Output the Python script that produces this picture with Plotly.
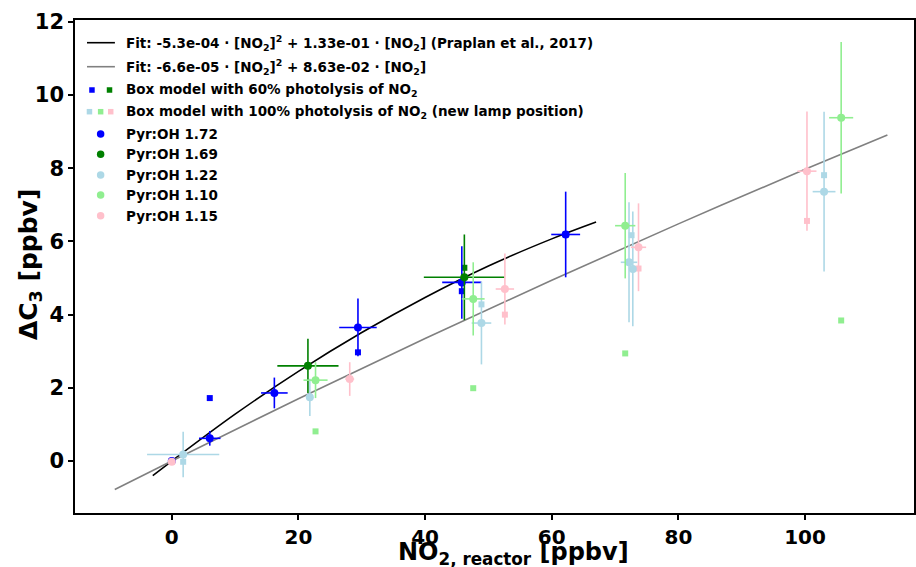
import plotly.graph_objects as go

# ---------------- data ----------------
# Fit curves (sampled)
fit1_x = [-3, 0, 10, 20, 30, 40, 50, 60, 67]
fit1_y = [-0.40, 0.0, 1.28, 2.45, 3.51, 4.47, 5.33, 6.07, 6.53]
fit2_x = [-9, 0, 20, 40, 60, 80, 100, 113]
fit2_y = [-0.78, 0.0, 1.70, 3.35, 4.94, 6.48, 7.97, 8.91]

# Pyr:OH 1.72 (blue)
b_x = [0.0, 6.0, 16.2, 29.4, 45.8, 62.2]
b_y = [0.0, 0.62, 1.86, 3.65, 4.88, 6.19]
b_xe = [0.0, 1.7, 2.1, 2.96, 3.1, 2.28]
b_ye = [0.0, 0.2, 0.42, 0.79, 0.99, 1.17]

# Pyr:OH 1.69 (green)
g_x = [21.5, 46.2]
g_y = [2.6, 5.02]
g_xe = [4.83, 6.4]
g_ye = [0.74, 1.17]

# Pyr:OH 1.22 (lightblue)
lb_x = [1.8, 21.8, 48.9, 72.2, 72.8, 103.0]
lb_y = [0.18, 1.74, 3.77, 5.43, 5.25, 7.36]
lb_xe = [5.7, 0.5, 1.55, 1.3, 0.5, 1.8]
lb_ye = [0.62, 0.51, 1.13, 1.64, 1.57, 2.18]

# Pyr:OH 1.10 (lightgreen)
lg_x = [22.7, 47.6, 71.6, 105.7]
lg_y = [2.21, 4.43, 6.43, 9.38]
lg_xe = [1.9, 1.8, 1.6, 1.9]
lg_ye = [0.49, 1.0, 1.44, 2.07]

# Pyr:OH 1.15 (pink)
pk_x = [0.0, 28.1, 52.6, 73.7, 100.3]
pk_y = [-0.02, 2.24, 4.7, 5.84, 7.92]
pk_xe = [0.0, 0.7, 1.45, 1.2, 1.5]
pk_ye = [0.0, 0.46, 0.97, 1.2, 1.63]

# Box model 60 % photolysis (squares)
m60_blue_x = [6.0, 29.4, 45.8, 62.2]
m60_blue_y = [1.72, 2.97, 4.64, 6.19]
m60_green_x = [21.5, 46.2]
m60_green_y = [2.6, 5.28]

# Box model 100 % photolysis (squares)
m100_lb_x = [1.8, 48.9, 72.6, 103.0]
m100_lb_y = [-0.02, 4.28, 6.17, 7.81]
m100_lg_x = [22.7, 47.6, 71.6, 105.7]
m100_lg_y = [0.81, 1.99, 2.94, 3.84]
m100_pk_x = [0.0, 52.6, 73.7, 100.3]
m100_pk_y = [0.0, 4.0, 5.26, 6.56]

x_ticks = [0, 20, 40, 60, 80, 100]
y_ticks = [0, 2, 4, 6, 8, 10, 12]

x_title = "NO<sub>2, reactor</sub> [ppbv]"
y_title = "ΔC<sub>3</sub> [ppbv]"

legend_texts = [
    "Fit: -5.3e-04 · [NO<sub>2</sub>]<sup>2</sup> + 1.33e-01 · [NO<sub>2</sub>] (Praplan et al., 2017)",
    "Fit: -6.6e-05 · [NO<sub>2</sub>]<sup>2</sup> + 8.63e-02 · [NO<sub>2</sub>]",
    "Box model with 60% photolysis of NO<sub>2</sub>",
    "Box model with 100% photolysis of NO<sub>2</sub> (new lamp position)",
    "Pyr:OH 1.72",
    "Pyr:OH 1.69",
    "Pyr:OH 1.22",
    "Pyr:OH 1.10",
    "Pyr:OH 1.15",
]

FONT = "DejaVu Sans"
W, H = 916, 567
L, R, T, B = 75, 0, 20, 54
PW, PH = W - L - R, H - T - B

fig = go.Figure()

fig.add_trace(go.Scatter(x=fit1_x, y=fit1_y, mode="lines", line=dict(color="black", width=1.6, shape="spline"), showlegend=False))
fig.add_trace(go.Scatter(x=fit2_x, y=fit2_y, mode="lines", line=dict(color="gray", width=1.6, shape="spline"), showlegend=False))


def sq(x, y, c):
    fig.add_trace(go.Scatter(x=x, y=y, mode="markers",
                             marker=dict(symbol="square", size=6, color=c, line=dict(width=0)),
                             showlegend=False))


def pts(x, y, xe, ye, c):
    fig.add_trace(go.Scatter(
        x=x, y=y, mode="markers",
        marker=dict(symbol="circle", size=8, color=c, line=dict(width=0)),
        error_x=dict(type="data", array=xe, color=c, thickness=1.6, width=0),
        error_y=dict(type="data", array=ye, color=c, thickness=1.6, width=0),
        showlegend=False))


sq(m60_blue_x, m60_blue_y, "blue")
sq(m60_green_x, m60_green_y, "green")
sq(m100_lb_x, m100_lb_y, "lightblue")
sq(m100_lg_x, m100_lg_y, "lightgreen")
sq(m100_pk_x, m100_pk_y, "pink")

pts(b_x, b_y, b_xe, b_ye, "blue")
pts(g_x, g_y, g_xe, g_ye, "green")
pts(lb_x, lb_y, lb_xe, lb_ye, "lightblue")
pts(lg_x, lg_y, lg_xe, lg_ye, "lightgreen")
pts(pk_x, pk_y, pk_xe, pk_ye, "pink")

# ---------------- custom legend (paper coords from pixel positions) ----------------
def px(x):
    return (x - L) / PW


def py(y):
    return (H - B - y) / PH


rows = [42.7, 66.7, 90, 111.7, 134, 154.3, 175, 195, 215.7]
shapes = []
for i, col in enumerate(["black", "gray"]):
    shapes.append(dict(type="line", xref="paper", yref="paper", x0=px(87), x1=px(115),
                       y0=py(rows[i]), y1=py(rows[i]), line=dict(color=col, width=1.6)))


def rect(cx, cy, s, col):
    shapes.append(dict(type="rect", xref="paper", yref="paper", x0=px(cx - s / 2), x1=px(cx + s / 2),
                       y0=py(cy + s / 2), y1=py(cy - s / 2), fillcolor=col, line=dict(width=0)))


def circ(cx, cy, s, col):
    shapes.append(dict(type="circle", xref="paper", yref="paper", x0=px(cx - s / 2), x1=px(cx + s / 2),
                       y0=py(cy + s / 2), y1=py(cy - s / 2), fillcolor=col, line=dict(width=0)))


rect(92, rows[2], 5.5, "blue")
rect(109.6, rows[2], 5.5, "green")
rect(89.5, rows[3], 5.5, "lightblue")
rect(100.7, rows[3], 5.5, "lightgreen")
rect(110.8, rows[3], 5.5, "pink")
for r, col in zip(rows[4:], ["blue", "green", "lightblue", "lightgreen", "pink"]):
    circ(100.7, r, 7.5, col)

annotations = []
for r, t in zip(rows, legend_texts):
    annotations.append(dict(xref="paper", yref="paper", x=px(124), y=py(r), xanchor="left", yanchor="middle",
                            text="<b>" + t + "</b>", showarrow=False,
                            font=dict(family=FONT, size=13.5, color="black")))

# axis titles as annotations for precise placement
annotations.append(dict(xref="paper", yref="paper", x=px(515), y=py(553.5), xanchor="center", yanchor="middle",
                        text="<b>" + x_title + "</b>", showarrow=False,
                        font=dict(family=FONT, size=24, color="black")))
annotations.append(dict(xref="paper", yref="paper", x=px(30), y=py(265), xanchor="center", yanchor="middle",
                        text="<b>" + y_title + "</b>", showarrow=False, textangle=-90,
                        font=dict(family=FONT, size=25, color="black")))

fig.update_layout(
    width=W, height=H,
    margin=dict(l=L, r=R, t=T, b=B, pad=0),
    plot_bgcolor="white", paper_bgcolor="white",
    font=dict(family=FONT, color="black"),
    shapes=shapes, annotations=annotations,
    showlegend=False,
)
fig.update_xaxes(
    range=[-15.28, 117.2], tickvals=x_ticks, ticktext=["<b>%d</b>" % v for v in x_ticks],
    showgrid=False, zeroline=False, showline=True, linecolor="black", linewidth=1.5, mirror=True,
    ticks="outside", ticklen=5, tickwidth=1.5, tickcolor="black",
    tickfont=dict(family=FONT, size=20),
)
fig.update_yaxes(
    range=[-1.42, 12.05], tickvals=y_ticks, ticktext=["<b>%d</b>" % v for v in y_ticks],
    showgrid=False, zeroline=False, showline=True, linecolor="black", linewidth=1.5, mirror=True,
    ticks="outside", ticklen=5, tickwidth=1.5, tickcolor="black",
    tickfont=dict(family=FONT, size=21),
)

fig.write_html("out.html")
